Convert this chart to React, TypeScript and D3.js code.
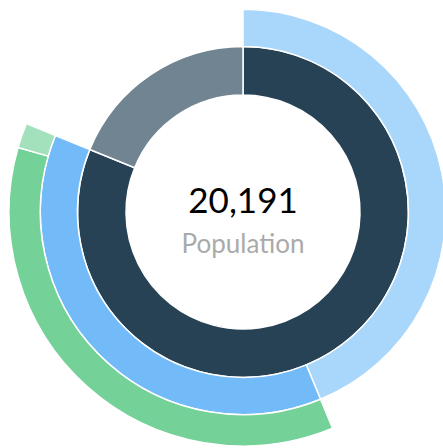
import React from "react";
import * as d3 from "d3";

const ids = ["root", "A", "B", "A1", "A2", "A2a", "A2b"];
const parents = ["", "root", "root", "A", "A", "A2", "A2"];
const values = [0, 0, 3803, 8834, 0, 7207, 347];
const colors = ["none", "#274254", "#708492", "#a9d6fb", "#73bbf8", "#74d197", "#a2e1bc"];
const centerLabel = "Population";

const W = 443;
const H = 448;
const cx = 243;
const cy = 212;
const unit = 117;

export default function App() {
  const rows = ids.map((id, i) => ({ id, parent: parents[i], value: values[i], color: colors[i] }));
  const root = d3
    .stratify<any>()
    .id((d) => d.id)
    .parentId((d) => d.parent || null)(rows)
    .sum((d) => d.value);
  d3.partition<any>().size([2 * Math.PI, 4])(root);
  const arc = d3
    .arc<any>()
    .startAngle((d) => d.x0)
    .endAngle((d) => d.x1)
    .innerRadius((d) => unit * Math.sqrt(d.y0))
    .outerRadius((d) => unit * Math.sqrt(d.y1));
  const nodes = root.descendants().filter((d) => d.depth > 0);
  const total = d3.format(",")(root.value);
  return (
    <svg width={W} height={H} style={{ position: "absolute", left: 0, top: 0 }}>
      <g transform={`translate(${cx},${cy})`}>
        {nodes.map((d, i) => (
          <path key={i} d={arc(d) || ""} fill={d.data.color} stroke="#fff" strokeWidth={1.5} />
        ))}
        <text textAnchor="middle" y={1} fontFamily="Lato" fontSize={35} fill="#000">
          {total}
        </text>
        <text textAnchor="middle" y={41} fontFamily="Lato" fontSize={26} fill="#aaaaaa">
          {centerLabel}
        </text>
      </g>
    </svg>
  );
}
